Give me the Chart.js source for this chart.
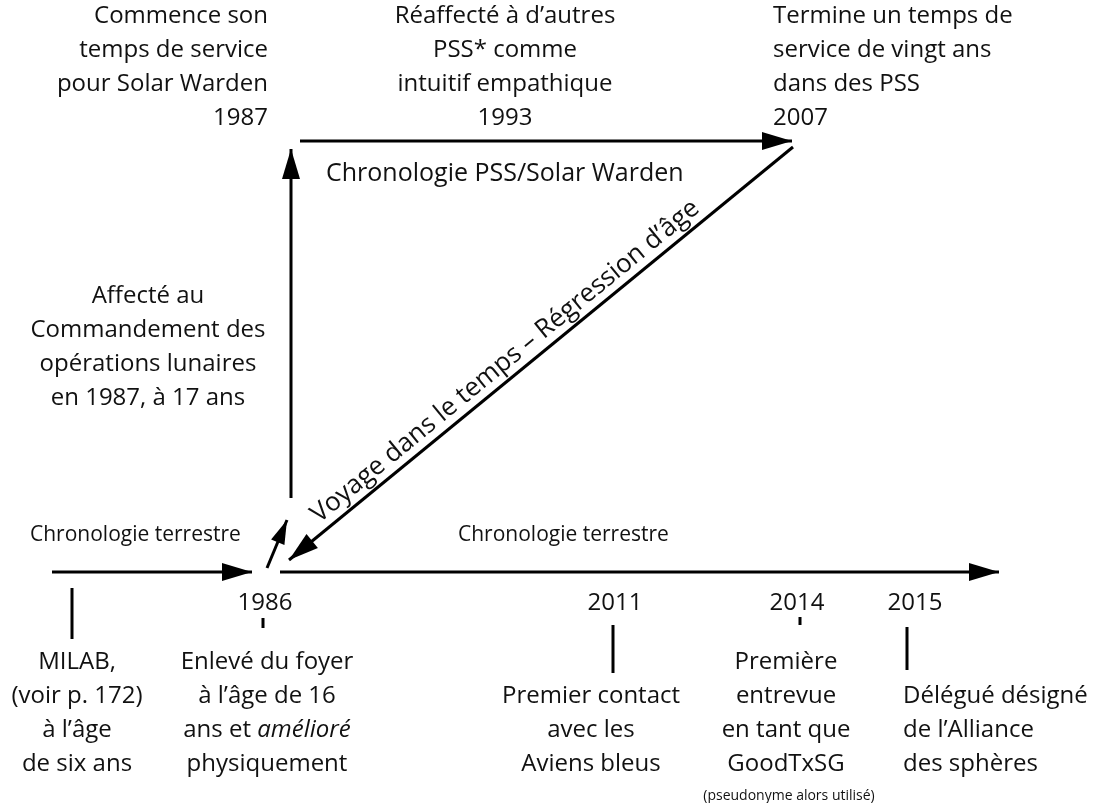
<!DOCTYPE html>
<html lang="fr">
<head>
<meta charset="utf-8">
<title>Chronologie PSS / Solar Warden</title>
<script src="https://cdn.jsdelivr.net/npm/chart.js@4.4.1/dist/chart.umd.min.js"></script>
<style>
  html, body { margin: 0; padding: 0; background: #fff; }
  #graf { display: block; }
</style>
</head>
<body>
<canvas id="graf" width="1097" height="803"></canvas>
<script>
// --- DONNÉES (coordonnées du schéma : x de gauche à droite, y de haut en bas) ---
const flecheDebut = [[52, 572], [280, 572], [291, 498], [300, 141], [793, 147], [267, 568]];
const flecheFin   = [[252, 572], [999, 572], [291, 149], [792, 141], [289, 560], [287, 520]];

const reperesX    = [72, 263, 613, 800, 907];
const reperesHaut = [588, 618, 625, 617, 627];
const reperesBas  = [639, 628, 673, 625, 670];

const annees  = ['1986', '2011', '2014', '2015'];
const anneesX = [265, 615, 797, 915];
const anneesY = 603;

// blocs de texte : lignes, ancre x, y de la première ligne, alignement
const blocsTexte = [
  { lignes: ['Commence son', 'temps de service', 'pour Solar Warden', '1987'], x: 268, y: 16, align: 'right' },
  { lignes: ['Réaffecté à d’autres', 'PSS* comme', 'intuitif empathique', '1993'], x: 505, y: 16, align: 'center' },
  { lignes: ['Termine un temps de', 'service de vingt ans', 'dans des PSS', '2007'], x: 773, y: 16, align: 'left' },
  { lignes: ['Affecté au', 'Commandement des', 'opérations lunaires', 'en 1987, à 17 ans'], x: 148, y: 296, align: 'center' },
  { lignes: ['MILAB,', '(voir p. 172)', 'à l’âge', 'de six ans'], x: 77, y: 662, align: 'center' },
  { lignes: ['Enlevé du foyer', 'à l’âge de 16', ['ans et ', '*amélioré'], 'physiquement'], x: 267, y: 662, align: 'center' },
  { lignes: ['Premier contact', 'avec les', 'Aviens bleus'], x: 591, y: 696, align: 'center' },
  { lignes: ['Première', 'entrevue', 'en tant que', 'GoodTxSG'], x: 786, y: 662, align: 'center' },
  { lignes: ['Délégué désigné', 'de l’Alliance', 'des sphères'], x: 903, y: 696, align: 'left' }
];

const titresChrono = [
  { texte: 'Chronologie PSS/Solar Warden', x: 326, y: 174, taille: 25 },
  { texte: 'Chronologie terrestre', x: 30, y: 535, taille: 21 },
  { texte: 'Chronologie terrestre', x: 458, y: 535, taille: 21 }
];

const noteBas = { texte: '(pseudonyme alors utilisé)', x: 789, y: 796 };
const texteDiagonale = 'Voyage dans le temps – Régression d’âge';

// --- STYLE ---
const PISMO = '"Open Sans", Lato, sans-serif';
const VELIKOST = 24;
const RADEK = 34;

// --- DATASETY ---
const datasety = [];
flecheDebut.forEach((d, i) => {
  datasety.push({
    data: [{ x: d[0], y: d[1] }, { x: flecheFin[i][0], y: flecheFin[i][1] }],
    fleche: i === 5 ? 24 : 30,
    showLine: true, borderColor: '#000', borderWidth: 3, pointRadius: 0, borderCapStyle: 'butt'
  });
});
reperesX.forEach((x, i) => {
  datasety.push({
    data: [{ x: x, y: reperesHaut[i] }, { x: x, y: reperesBas[i] }],
    showLine: true, borderColor: '#000', borderWidth: 3, pointRadius: 0
  });
});

// --- PLUGIN : pointes de flèches ---
const pointes = {
  id: 'pointes',
  afterDatasetsDraw(chart) {
    const ctx = chart.ctx;
    chart.data.datasets.forEach((ds, i) => {
      if (!ds.fleche) return;
      const pts = chart.getDatasetMeta(i).data;
      const a = pts[0], b = pts[1];
      const uhel = Math.atan2(b.y - a.y, b.x - a.x);
      const L = ds.fleche, W = L * 0.3;
      ctx.save();
      ctx.translate(b.x, b.y);
      ctx.rotate(uhel);
      ctx.fillStyle = '#000';
      ctx.beginPath();
      ctx.moveTo(0, 0);
      ctx.lineTo(-L, -W);
      ctx.lineTo(-L, W);
      ctx.closePath();
      ctx.fill();
      ctx.restore();
    });
  }
};

// --- PLUGIN : textes ---
function radek(ctx, casti, x, y, align) {
  const fonty = casti.map(c => c.startsWith('*') ? 'italic ' + VELIKOST + 'px ' + PISMO : VELIKOST + 'px ' + PISMO);
  const texty = casti.map(c => c.startsWith('*') ? c.slice(1) : c);
  const sirky = texty.map((t, k) => { ctx.font = fonty[k]; return ctx.measureText(t).width; });
  const celkem = sirky.reduce((s, w) => s + w, 0);
  let x0 = align === 'center' ? x - celkem / 2 : align === 'right' ? x - celkem : x;
  ctx.textAlign = 'left';
  texty.forEach((t, k) => { ctx.font = fonty[k]; ctx.fillText(t, x0, y); x0 += sirky[k]; });
}

const popisky = {
  id: 'popisky',
  afterDraw(chart) {
    const ctx = chart.ctx;
    const sx = chart.scales.x, sy = chart.scales.y;
    ctx.save();
    ctx.fillStyle = '#111';
    ctx.textBaseline = 'middle';

    blocsTexte.forEach(b => {
      b.lignes.forEach((l, k) => {
        const casti = Array.isArray(l) ? l : [l];
        radek(ctx, casti, sx.getPixelForValue(b.x), sy.getPixelForValue(b.y + k * RADEK), b.align);
      });
    });

    ctx.textAlign = 'center';
    ctx.font = VELIKOST + 'px ' + PISMO;
    annees.forEach((a, i) => ctx.fillText(a, sx.getPixelForValue(anneesX[i]), sy.getPixelForValue(anneesY)));

    ctx.textAlign = 'left';
    titresChrono.forEach(t => {
      ctx.font = t.taille + 'px ' + PISMO;
      ctx.fillText(t.texte, sx.getPixelForValue(t.x), sy.getPixelForValue(t.y));
    });

    ctx.textAlign = 'center';
    ctx.font = '14px ' + PISMO;
    ctx.fillText(noteBas.texte, sx.getPixelForValue(noteBas.x), sy.getPixelForValue(noteBas.y));

    // texte le long de la diagonale
    const diag = chart.getDatasetMeta(4).data;
    const a = diag[1], b = diag[0];
    const uhel = Math.atan2(b.y - a.y, b.x - a.x);
    const t = 0.45;
    const cx = a.x + (b.x - a.x) * t, cy = a.y + (b.y - a.y) * t;
    ctx.translate(cx, cy);
    ctx.rotate(uhel);
    ctx.font = '26px ' + PISMO;
    ctx.textAlign = 'center';
    ctx.textBaseline = 'alphabetic';
    ctx.fillText(texteDiagonale, 0, -9);
    ctx.restore();
  }
};

// --- GRAF ---
const graf = new Chart(document.getElementById('graf'), {
  type: 'scatter',
  data: { datasets: datasety },
  options: {
    responsive: false,
    animation: false,
    devicePixelRatio: 1,
    events: [],
    layout: { padding: 0 },
    plugins: { legend: { display: false }, tooltip: { enabled: false } },
    scales: {
      x: { type: 'linear', min: 0, max: 1097, display: false },
      y: { type: 'linear', min: 0, max: 803, reverse: true, display: false }
    }
  },
  plugins: [pointes, popisky]
});
</script>
</body>
</html>
